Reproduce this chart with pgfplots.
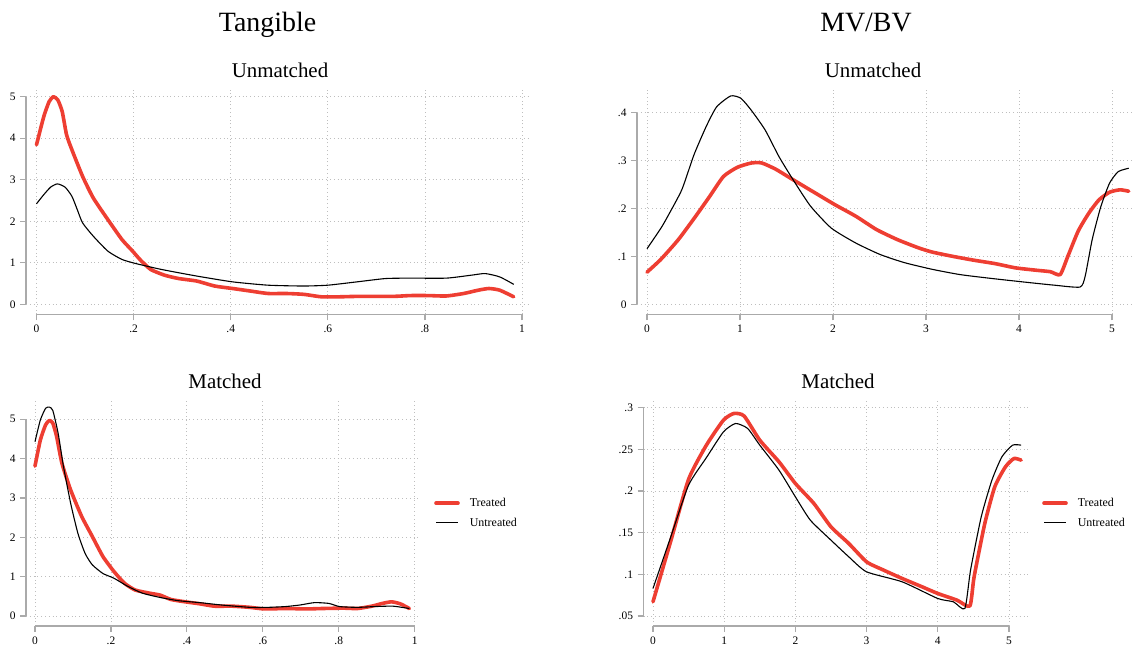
\documentclass[border=0pt]{standalone}
\usepackage{pgfplots}
\pgfplotsset{compat=1.18}
\usepackage{fontspec}
\setmainfont{Liberation Serif}
\definecolor{tred}{RGB}{238,62,50}
\definecolor{axgray}{RGB}{170,170,170}
\definecolor{gridgray}{RGB}{190,190,190}

\pgfplotstableread{
x y
0 3.84
0.015 4.52
0.026 4.88
0.035 5.0
0.044 4.92
0.053 4.64
0.062 4.08
0.073 3.72
0.095 3.08
0.117 2.56
0.147 2.04
0.176 1.56
0.198 1.28
0.213 1.08
0.235 0.84
0.264 0.70
0.293 0.62
0.33 0.56
0.367 0.44
0.404 0.38
0.44 0.32
0.477 0.26
0.514 0.26
0.55 0.24
0.587 0.18
0.624 0.18
0.66 0.19
0.734 0.19
0.77 0.21
0.807 0.21
0.844 0.20
0.88 0.26
0.91 0.34
0.932 0.38
0.954 0.34
0.983 0.18
}\tanUT

\pgfplotstableread{
x y
0 2.42
0.015 2.64
0.029 2.82
0.043 2.90
0.059 2.82
0.073 2.60
0.084 2.28
0.095 1.96
0.117 1.64
0.147 1.28
0.176 1.08
0.205 0.98
0.257 0.84
0.33 0.68
0.404 0.54
0.477 0.46
0.55 0.44
0.60 0.46
0.66 0.54
0.719 0.62
0.77 0.63
0.844 0.63
0.895 0.70
0.924 0.74
0.954 0.66
0.983 0.48
}\tanUU

\pgfplotstableread{
x y
0 0.067
0.15 0.094
0.337 0.135
0.524 0.184
0.673 0.225
0.823 0.267
0.972 0.286
1.122 0.295
1.234 0.295
1.384 0.282
1.571 0.26
1.795 0.234
2.02 0.208
2.244 0.184
2.468 0.156
2.693 0.135
2.917 0.118
3.067 0.109
3.29 0.10
3.515 0.092
3.74 0.085
3.964 0.076
4.19 0.071
4.338 0.068
4.443 0.062
4.525 0.10
4.637 0.153
4.75 0.19
4.86 0.218
4.974 0.234
5.086 0.239
5.18 0.236
}\mvUT

\pgfplotstableread{
x y
0 0.116
0.15 0.159
0.224 0.184
0.374 0.239
0.505 0.312
0.636 0.371
0.748 0.412
0.9 0.435
1.01 0.43
1.122 0.405
1.27 0.364
1.42 0.308
1.571 0.26
1.758 0.205
1.982 0.159
2.244 0.128
2.506 0.104
2.767 0.087
3.067 0.073
3.366 0.062
3.702 0.054
4.076 0.046
4.375 0.040
4.656 0.036
4.712 0.059
4.787 0.135
4.88 0.204
4.974 0.253
5.067 0.277
5.18 0.284
}\mvUU

\pgfplotstableread{
x y
0 3.81
0.014 4.47
0.028 4.86
0.038 4.97
0.047 4.90
0.057 4.56
0.071 3.88
0.094 3.20
0.123 2.53
0.151 2.02
0.179 1.51
0.208 1.13
0.236 0.83
0.264 0.66
0.302 0.58
0.33 0.53
0.358 0.42
0.396 0.36
0.434 0.31
0.472 0.25
0.519 0.25
0.566 0.22
0.604 0.18
0.66 0.19
0.717 0.18
0.755 0.19
0.811 0.20
0.849 0.19
0.887 0.25
0.915 0.32
0.939 0.36
0.962 0.31
0.986 0.19
}\tanMT

\pgfplotstableread{
x y
0 4.43
0.014 4.98
0.028 5.28
0.038 5.31
0.047 5.22
0.061 4.64
0.075 3.80
0.094 2.86
0.113 2.10
0.132 1.59
0.151 1.30
0.179 1.08
0.208 0.96
0.245 0.75
0.283 0.58
0.33 0.47
0.377 0.39
0.434 0.34
0.491 0.28
0.566 0.22
0.613 0.22
0.66 0.24
0.698 0.28
0.736 0.34
0.774 0.32
0.802 0.24
0.849 0.22
0.896 0.24
0.943 0.25
0.986 0.19
}\tanMU

\pgfplotstableread{
x y
0 0.067
0.25 0.140
0.5 0.214
0.75 0.255
0.99 0.285
1.135 0.293
1.28 0.290
1.5 0.261
1.77 0.235
2.0 0.209
2.26 0.185
2.5 0.157
2.75 0.137
3.0 0.115
3.24 0.105
3.5 0.095
3.78 0.085
4.0 0.077
4.27 0.069
4.45 0.062
4.51 0.097
4.66 0.161
4.80 0.205
4.95 0.229
5.07 0.239
5.17 0.237
}\mvMT

\pgfplotstableread{
x y
0 0.083
0.25 0.145
0.5 0.207
0.75 0.240
0.99 0.271
1.16 0.281
1.33 0.275
1.5 0.255
1.77 0.225
2.0 0.193
2.21 0.165
2.5 0.141
2.75 0.121
3.0 0.103
3.5 0.091
4.0 0.071
4.22 0.067
4.38 0.059
4.46 0.105
4.61 0.169
4.76 0.213
4.90 0.241
5.05 0.255
5.17 0.255
}\mvMU

\pgfplotsset{
  stata/.style={
    scale only axis,
    anchor=south west,
    axis line style={draw=none},
    tick align=outside,
    tick pos=left,
    major tick length=6bp,
    tick style={axgray, line width=1.2bp},
    grid=major,
    grid style={gridgray, line width=0.8bp, dash pattern=on 0.8bp off 3bp},
    ticklabel style={font=\fontsize{11.5}{13}\selectfont},
    xticklabel style={yshift=-1bp},
    yticklabel style={xshift=-1bp},
    clip=false,
  },
  tr/.style={tred, line width=3.6bp, smooth, tension=0.35, line join=round, line cap=round},
  un/.style={black, line width=1.1bp, smooth, tension=0.35, line join=round},
  leg/.style={
    legend style={draw=none, fill=none, at={(1,0.5)}, anchor=west, xshift=14bp,
      font=\fontsize{12}{14}\selectfont, row sep=6bp, inner sep=0pt,
      /tikz/every odd column/.style={column sep=8bp}},
    legend cell align=left,
    legend image code/.code={\draw[##1, smooth=false] (0bp,0bp) -- (22bp,0bp);},
  },
}

\begin{document}
\begin{tikzpicture}
\useasboundingbox (0bp,0bp) rectangle (1138bp,647bp);

\node[anchor=base, font=\fontsize{28}{30}\selectfont] at (267.5bp,615bp) {Tangible};
\node[anchor=base, font=\fontsize{28}{30}\selectfont] at (866bp,615bp) {MV/BV};
\node[anchor=base, font=\fontsize{21}{23}\selectfont] at (280bp,569bp) {Unmatched};
\node[anchor=base, font=\fontsize{21}{23}\selectfont] at (873bp,569bp) {Unmatched};
\node[anchor=base, font=\fontsize{21}{23}\selectfont] at (225bp,258bp) {Matched};
\node[anchor=base, font=\fontsize{21}{23}\selectfont] at (838bp,258bp) {Matched};

% Top-left
\begin{axis}[stata, at={(26bp,332.7bp)}, width=503bp, height=224.3bp,
  xmin=-0.0216, xmax=1.0144, ymin=-0.241, ymax=5.161,
  xtick={0,0.2,0.4,0.6,0.8,1}, xticklabels={0,.2,.4,.6,.8,1},
  ytick={0,1,2,3,4,5}, yticklabels={0,1,2,3,4,5}]
\draw[axgray, line width=1.5bp] (axis cs:-0.0216,0) -- (axis cs:-0.0216,5);
\draw[axgray, line width=1.5bp] (axis cs:0,-0.241) -- (axis cs:1,-0.241);
\addplot[tr] table[x=x,y=y] {\tanUT};
\addplot[un] table[x=x,y=y] {\tanUU};
\end{axis}

% Top-right
\begin{axis}[stata, at={(637bp,332.7bp)}, width=496bp, height=224.3bp,
  xmin=-0.1075, xmax=5.226, ymin=-0.0209, ymax=0.4474,
  xtick={0,1,2,3,4,5}, xticklabels={0,1,2,3,4,5},
  ytick={0,0.1,0.2,0.3,0.4}, yticklabels={0,.1,.2,.3,.4}]
\draw[axgray, line width=1.5bp] (axis cs:-0.1075,0) -- (axis cs:-0.1075,0.4);
\draw[axgray, line width=1.5bp] (axis cs:0,-0.0209) -- (axis cs:5,-0.0209);
\addplot[tr] table[x=x,y=y] {\mvUT};
\addplot[un] table[x=x,y=y] {\mvUU};
\end{axis}

% Bottom-left
\begin{axis}[stata, leg, at={(26bp,21bp)}, width=394bp, height=226bp,
  xmin=-0.0237, xmax=1.0139, ymin=-0.254, ymax=5.49,
  xtick={0,0.2,0.4,0.6,0.8,1}, xticklabels={0,.2,.4,.6,.8,1},
  ytick={0,1,2,3,4,5}, yticklabels={0,1,2,3,4,5}]
\draw[axgray, line width=1.5bp] (axis cs:-0.0237,0) -- (axis cs:-0.0237,5);
\draw[axgray, line width=1.5bp] (axis cs:0,-0.254) -- (axis cs:1,-0.254);
\addplot[tr] table[x=x,y=y] {\tanMT};
\addlegendentry{Treated}
\addplot[un] table[x=x,y=y] {\tanMU};
\addlegendentry{Untreated}
\end{axis}

% Bottom-right
\begin{axis}[stata, leg, at={(643.5bp,21bp)}, width=384.5bp, height=226bp,
  xmin=-0.133, xmax=5.267, ymin=0.038, ymax=0.3092,
  xtick={0,1,2,3,4,5}, xticklabels={0,1,2,3,4,5},
  ytick={0.05,0.1,0.15,0.2,0.25,0.3}, yticklabels={.05,.1,.15,.2,.25,.3}]
\draw[axgray, line width=1.5bp] (axis cs:-0.133,0.05) -- (axis cs:-0.133,0.3);
\draw[axgray, line width=1.5bp] (axis cs:0,0.038) -- (axis cs:5,0.038);
\addplot[tr] table[x=x,y=y] {\mvMT};
\addlegendentry{Treated}
\addplot[un] table[x=x,y=y] {\mvMU};
\addlegendentry{Untreated}
\end{axis}
\end{tikzpicture}
\end{document}
